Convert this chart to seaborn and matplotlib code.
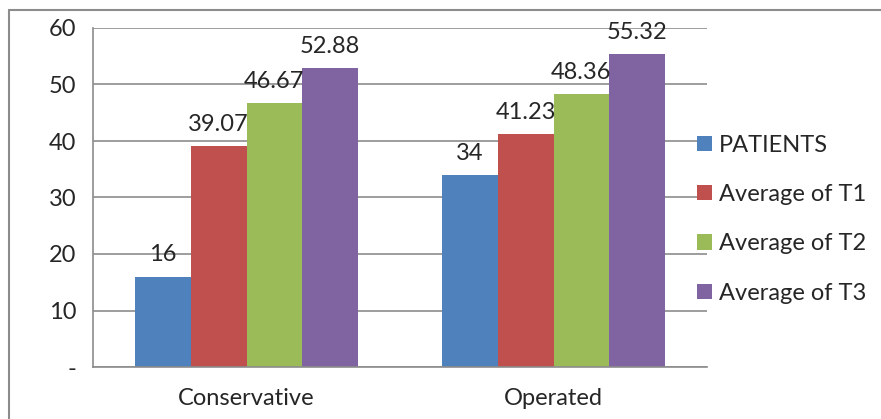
import matplotlib
matplotlib.use("Agg")
import matplotlib.pyplot as plt
import seaborn as sns
import pandas as pd
from matplotlib.lines import Line2D
from matplotlib.ticker import FixedLocator

categories = ["Conservative", "Operated"]
series = ["PATIENTS", "Average of T1", "Average of T2", "Average of T3"]
patients = [16, 34]
avg_t1 = [39.07, 41.23]
avg_t2 = [46.67, 48.36]
avg_t3 = [52.88, 55.32]
label_text = {"PATIENTS": ["16", "34"], "Average of T1": ["39.07", "41.23"],
              "Average of T2": ["46.67", "48.36"], "Average of T3": ["52.88", "55.32"]}
yticks = [0, 10, 20, 30, 40, 50, 60]
yticklabels = ["-", "10", "20", "30", "40", "50", "60"]
colors = ["#4F81BD", "#C0504D", "#9BBB59", "#8064A2"]

rows = []
for s, vals in zip(series, [patients, avg_t1, avg_t2, avg_t3]):
    for c, v in zip(categories, vals):
        rows.append({"Category": c, "Series": s, "Value": v})
df = pd.DataFrame(rows)

sns.set_style("white")
plt.rcParams["font.family"] = ["Lato", "DejaVu Sans"]
FS = 17

fig = plt.figure(figsize=(8.81, 4.19), dpi=100)
ax = fig.add_axes([93/881, 1-367/419, (707-93)/881, (367-28)/419])

sns.barplot(data=df, x="Category", y="Value", hue="Series", order=categories,
            hue_order=series, palette=colors, width=0.727, gap=0, ax=ax,
            errorbar=None, saturation=1, linewidth=0, legend=True)

ax.set_xlim(-0.5, 1.5)
ax.set_ylim(0, 60)
ax.set_yticks(yticks)
ax.set_yticklabels(yticklabels, fontsize=FS)
ax.set_xticks([0, 1])
ax.set_xticklabels(categories, fontsize=FS)
ax.xaxis.set_minor_locator(FixedLocator([-0.5, 0.5, 1.5]))
ax.tick_params(axis="x", which="major", length=0, pad=15)
ax.tick_params(axis="x", which="minor", length=7, width=1.2, color="#8c8c8c", direction="out")
ax.tick_params(axis="y", length=7, width=1.2, color="#8c8c8c", direction="out", pad=5)
ax.set_xlabel("")
ax.set_ylabel("")
ax.yaxis.grid(True, color="#8c8c8c", linewidth=1.2)
ax.set_axisbelow(True)
for side in ["top", "right"]:
    ax.spines[side].set_visible(False)
for side in ["left", "bottom"]:
    ax.spines[side].set_color("#8c8c8c")
    ax.spines[side].set_linewidth(1.2)

for cont, s in zip(ax.containers, series):
    ax.bar_label(cont, labels=label_text[s], padding=8, fontsize=FS)

handles, labels = ax.get_legend_handles_labels()
ax.get_legend().remove()
fig.legend(handles, labels, loc="center left", bbox_to_anchor=(697/881, 1-219/419),
           frameon=False, fontsize=FS, handlelength=0.62, handleheight=0.62,
           handletextpad=0.3, labelspacing=1.2, borderaxespad=0, borderpad=0)

fig.add_artist(Line2D([9/881, 1.0], [1-10.5/419]*2, color="#8c8c8c", linewidth=1.5))
fig.add_artist(Line2D([9/881]*2, [0, 1-10.5/419], color="#8c8c8c", linewidth=1.5))

fig.savefig("out.png", dpi=100)
